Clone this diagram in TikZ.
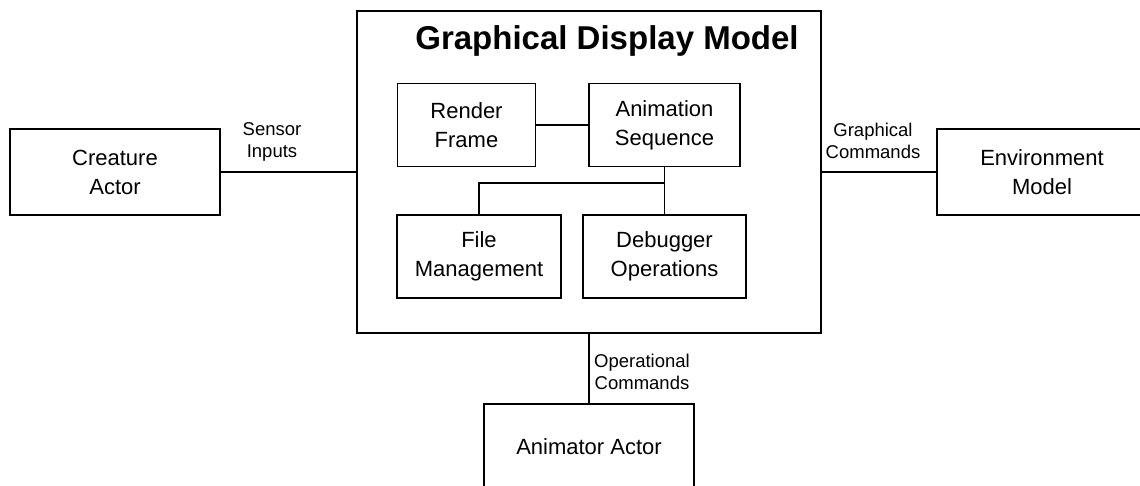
\documentclass[tikz,border=0pt]{standalone}
\usepackage{fontspec}
\setmainfont{Liberation Sans}
\begin{document}
\begin{tikzpicture}[x=1pt,y=-1pt,
  box/.style={draw, line width=1.6pt, inner sep=0pt, align=center,
    font=\fontsize{22}{29}\selectfont},
  outer/.style={box, minimum width=210pt, minimum height=86pt},
  tag/.style={inner sep=0pt, align=center, font=\fontsize{18.5}{21.5}\selectfont},
  wire/.style={line width=1.6pt}]
\useasboundingbox (0,0) rectangle (1140,486);

% container
\node[box, minimum width=464pt, minimum height=322pt] (gdm) at (589,172) {};
\node[anchor=base, inner sep=0pt, font=\bfseries\fontsize{33}{40}\selectfont]
  (title) at (607,50) {Graphical Display Model};

% inner components
\node[box, minimum width=138pt, minimum height=83pt] (render) at (466.5,125) {Render\\Frame};
\node[box, minimum width=151pt, minimum height=83pt] (anim) at (664.5,125) {Animation\\Sequence};
\node[box, minimum width=164pt, minimum height=83pt] (file) at (479,256.7) {File\\Management};
\node[box, minimum width=163pt, minimum height=83pt] (debug) at (664.5,256.7) {Debugger\\Operations};

% external actors
\node[outer] (creature) at (115,172) {Creature\\Actor};
\node[outer] (env) at (1042,172) {Environment\\Model};
\node[outer] (animator) at (589,447) {Animator Actor};

% connectors
\coordinate (split) at (664.5,183.3);
\draw[wire] (render.east) -- (anim.west);
\draw[wire] (anim.south) -- (debug.north);
\draw[wire] (split) -| (file.north);
\draw[wire] (creature.east) -- (gdm.west);
\draw[wire] (gdm.east) -- (env.west);
\draw[wire] (gdm.south) -- (animator.north);

% connector labels
\node[tag] (sensor) at (272,142) {Sensor\\Inputs};
\node[tag] (graph) at (873,141) {Graphical\\Commands};
\node[tag] (oper) at (642,372) {Operational\\Commands};
\end{tikzpicture}
\end{document}
